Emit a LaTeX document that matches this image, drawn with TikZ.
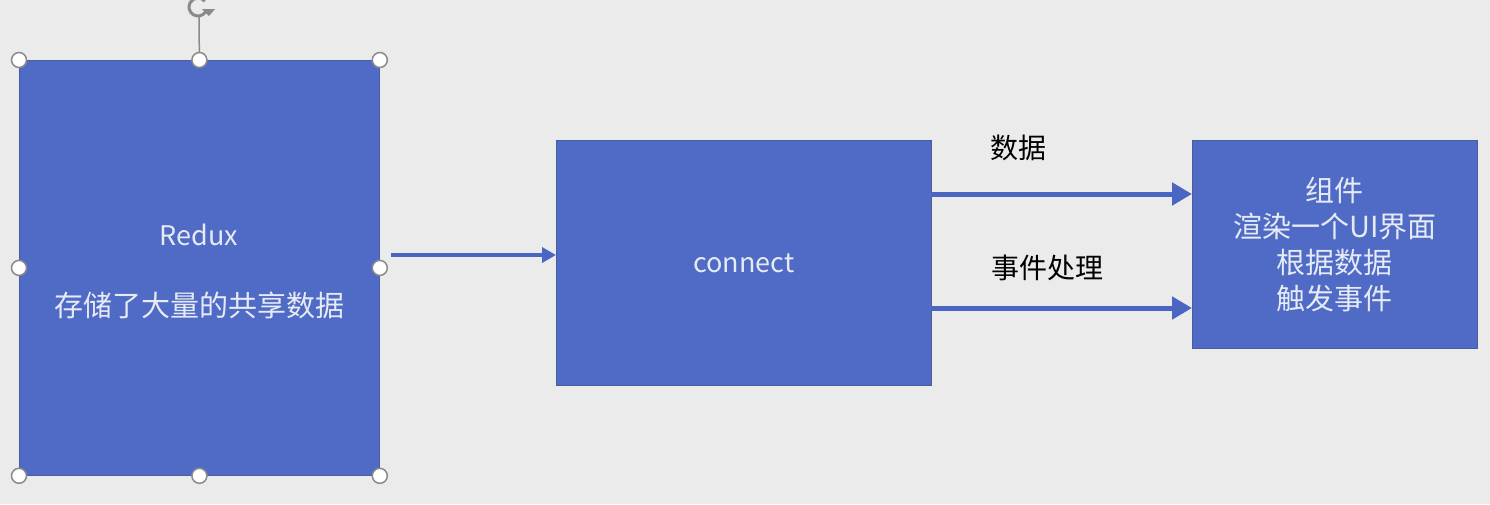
\documentclass[tikz,border=0pt]{standalone}
\usepackage{fontspec}
\setmainfont{Noto Sans CJK SC}
\usetikzlibrary{arrows.meta}
\definecolor{bg}{HTML}{EBEBEB}
\definecolor{boxblue}{HTML}{4F6BC6}
\definecolor{boxedge}{HTML}{4B5C9E}
\definecolor{arrowblue}{HTML}{4A65C2}
\definecolor{boxtext}{HTML}{E6EAF4}
\definecolor{handle}{HTML}{8A8A8A}
\tikzset{
  bluebox/.style={draw=boxedge, line width=0.8pt, fill=boxblue, text=boxtext, inner sep=0pt, align=center},
  flow/.style={draw=arrowblue, line width=#1, -{Triangle[length=20pt,width=22pt]}},
  thinflow/.style={draw=arrowblue, line width=3.5pt, -{Triangle[length=14pt,width=15pt]}},
  lbl/.style={text=black, font=\fontsize{28}{32}\selectfont, inner sep=0pt},
  hnd/.style={circle, draw=handle, line width=1.5pt, fill=white, minimum size=15pt, inner sep=0pt},
}
\begin{document}
\begin{tikzpicture}[x=1pt,y=-1pt]
\fill[bg] (0,0) rectangle (1490,504);
\useasboundingbox (0,0) rectangle (1490,504);
% boxes
\node[bluebox, minimum width=360pt, minimum height=415pt, anchor=north west] (redux) at (19,60) {};
\node[text=boxtext, font=\fontsize{27}{31}\selectfont, inner sep=0pt] (rt1) at (199,235) {Redux};
\node[text=boxtext, font=\fontsize{29}{33}\selectfont, inner sep=0pt] (rt2) at (199,305) {存储了大量的共享数据};
\node[bluebox, minimum width=375pt, minimum height=245pt, anchor=north west, font=\fontsize{27}{31}\selectfont] (conn) at (556,140) {connect};
\node[bluebox, minimum width=285pt, minimum height=208pt, anchor=north west, font=\fontsize{29}{36}\selectfont] (comp) at (1192,140) {组件\\渲染一个UI界面\\根据数据\\触发事件};
% handles
\coordinate (rotc) at (198,7);
\draw[handle, line width=1.5pt] (redux.north) -- (199,17);
\draw[handle, line width=3pt] (rotc) ++(30:9) arc (30:320:9);
\fill[handle] (202,9) -- (215,9) -- (209,16) -- cycle;
\foreach \a in {north west,north,north east,west,east,south west,south,south east}
  \node[hnd] at (redux.\a) {};
% connectors
\coordinate (s1) at (391,255);
\draw[thinflow] (s1) -- (conn.west |- s1);
\coordinate (d1) at (931,194);
\coordinate (d2) at (931,308);
\draw[flow=5pt] (d1) -- (comp.west |- d1);
\draw[flow=5pt] (d2) -- (comp.west |- d2);
\node[lbl] (l1) at (1018,148) {数据};
\node[lbl] (l2) at (1047,268) {事件处理};
\end{tikzpicture}
\end{document}
